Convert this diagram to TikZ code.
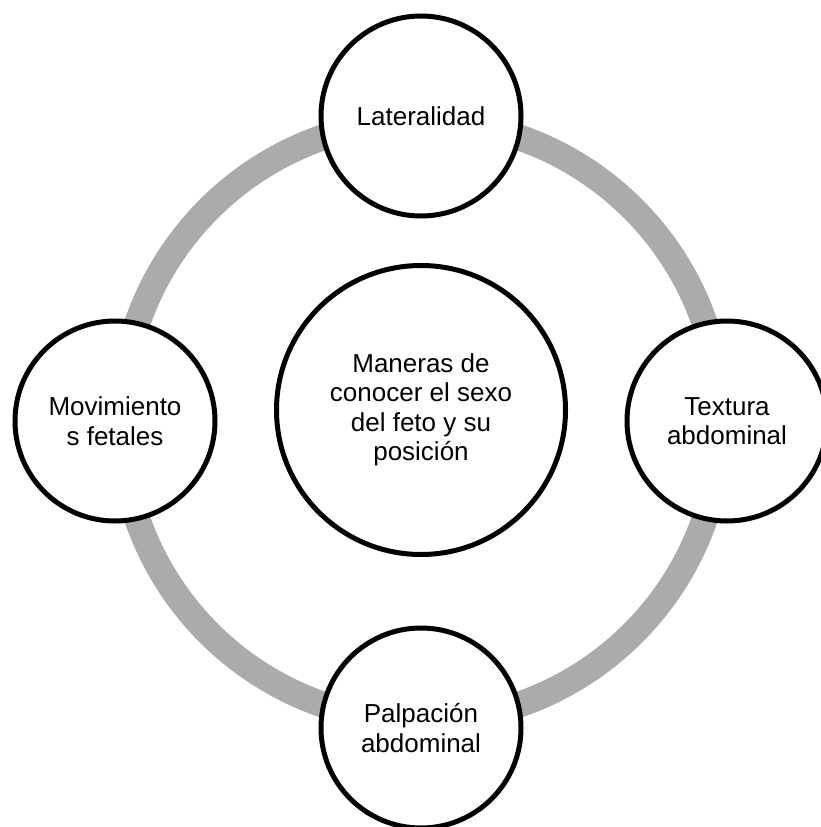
\documentclass[tikz,border=0pt]{standalone}
\usepackage{fontspec}
\setmainfont{Liberation Sans}
\begin{document}
\begin{tikzpicture}[x=1pt,y=-1pt,
  ringline/.style={draw=black!33,line width=26pt},
  bubble/.style={circle,draw=black,line width=5pt,fill=white,minimum size=200pt,inner sep=0pt,align=center,font=\fontsize{26}{29.5}\selectfont},
  bigbubble/.style={bubble,minimum size=289pt}]
\useasboundingbox (0,0) rectangle (821,827);
\coordinate (ctr) at (421,421);
\draw[ringline] (ctr) circle[radius=300];
\node[bigbubble] (main) at (421,410) {Maneras de\\conocer el sexo\\del feto y su\\posición};
\node[bubble] (lat) at (421,116) {Lateralidad};
\node[bubble] (tex) at (727,421) {Textura\\abdominal};
\node[bubble] (pal) at (421,728) {Palpación\\abdominal};
\node[bubble] (mov) at (115,421) {Movimiento\\s fetales};
\end{tikzpicture}
\end{document}
